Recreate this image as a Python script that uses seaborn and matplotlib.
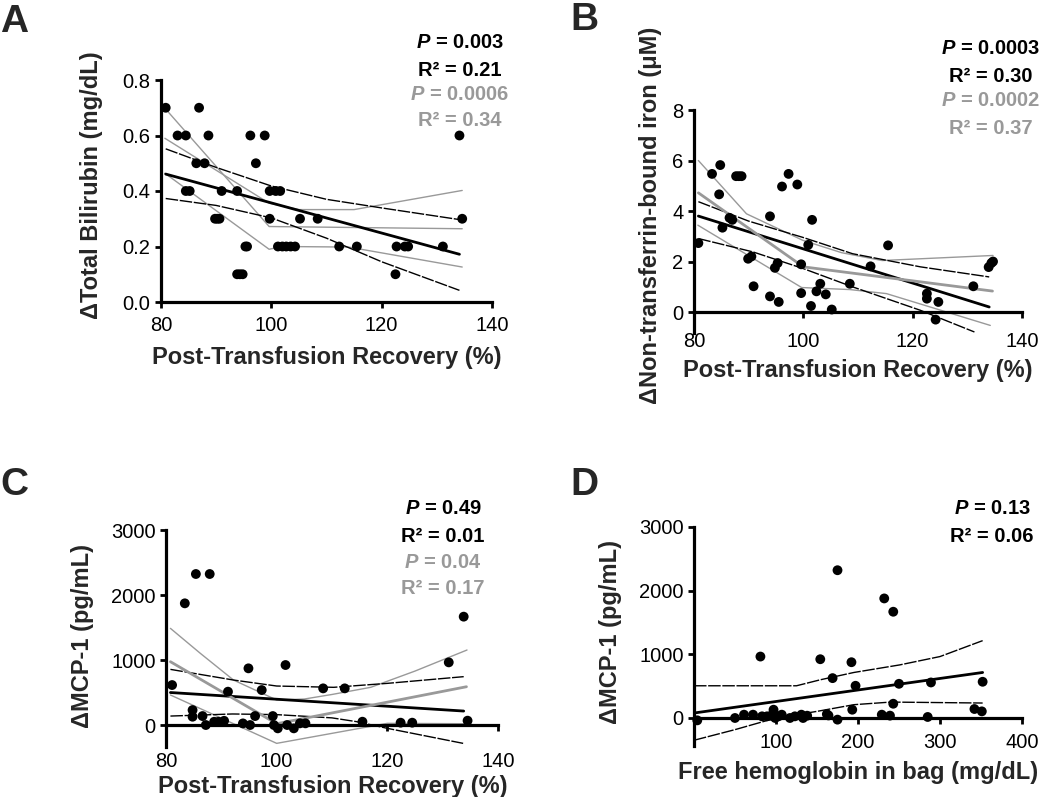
import matplotlib
matplotlib.use("Agg")
import matplotlib.pyplot as plt
import seaborn as sns
import numpy as np

# ---------------- data ----------------
# Panel A
a_x = [80.85, 83.0, 84.5, 84.5, 85.2, 86.9, 86.4, 87.9, 88.6, 89.8, 90.2, 90.6, 91.0,
       93.8, 93.8, 94.3, 94.8, 95.3, 95.6, 96.2, 97.2, 98.8, 99.7, 99.7, 100.8, 101.6,
       101.2, 102.0, 102.7, 103.5, 104.3, 105.2, 108.4, 112.3, 115.5, 122.5, 122.7,
       124.2, 124.8, 131.1, 134.1, 134.6]
a_y = [0.7, 0.6, 0.6, 0.4, 0.4, 0.7, 0.5, 0.5, 0.6, 0.3, 0.3, 0.3, 0.4,
       0.4, 0.1, 0.1, 0.1, 0.2, 0.2, 0.6, 0.5, 0.6, 0.3, 0.4, 0.4, 0.4,
       0.2, 0.2, 0.2, 0.2, 0.2, 0.3, 0.3, 0.2, 0.2, 0.1, 0.2,
       0.2, 0.2, 0.2, 0.6, 0.3]
a_fit_x = [80.85, 134.1]
a_fit_y = [0.461, 0.172]
a_hi_x = [80.85, 90, 100, 110, 120, 134.1]
a_hi_y = [0.552, 0.485, 0.418, 0.37, 0.339, 0.297]
a_lo_x = [80.85, 90, 100, 110, 120, 134.1]
a_lo_y = [0.373, 0.348, 0.303, 0.23, 0.145, 0.042]
a_seg_x = [80.5, 99.6, 134.6]
a_seg_y = [0.703, 0.272, 0.264]
a_seghi_x = [80.7, 99.6, 105, 115, 134.6]
a_seghi_y = [0.59, 0.356, 0.333, 0.333, 0.402]
a_seglo_x = [80.7, 99.6, 102, 114, 134.6]
a_seglo_y = [0.464, 0.19, 0.2, 0.198, 0.126]

# Panel B
b_x = [80.8, 83.3, 84.8, 84.6, 85.2, 86.5, 87.0, 87.7, 88.2, 88.7, 89.9, 90.5, 90.9,
       93.9, 93.9, 94.8, 95.3, 95.5, 96.1, 97.3, 98.9, 99.6, 99.6, 100.9, 101.4, 101.6,
       102.4, 103.1, 104.1, 105.2, 108.5, 112.3, 115.5, 122.6, 122.6, 124.7, 124.2,
       131.1, 133.9, 134.4, 134.7]
b_y = [2.73, 5.47, 5.82, 4.66, 3.34, 3.73, 3.65, 5.38, 5.38, 5.38, 2.11, 2.2, 1.02,
       3.79, 0.62, 1.75, 1.94, 0.40, 4.97, 5.47, 5.05, 0.75, 1.89, 2.66, 0.24, 3.65,
       0.82, 1.12, 0.70, 0.10, 1.12, 1.81, 2.64, 0.73, 0.53, 0.40, -0.30,
       1.02, 1.78, 1.94, 2.0]
b_fit_x = [80.8, 134.0]
b_fit_y = [3.8, 0.2]
b_hi_x = [80.8, 90, 100, 109, 121.4, 134.0]
b_hi_y = [4.37, 3.6, 2.95, 2.31, 1.79, 1.39]
b_lo_x = [80.8, 90.8, 100, 109.1, 121.4, 131.3]
b_lo_y = [2.91, 2.38, 1.72, 0.99, 0.07, -0.79]
b_seg_x = [80.8, 100, 134.6]
b_seg_y = [4.72, 1.79, 0.83]
b_seghi_x = [80.8, 89.6, 99.9, 107, 114.4, 134.7]
b_seghi_y = [6.0, 3.89, 2.84, 2.35, 2.04, 2.24]
b_seglo_x = [80.7, 99.7, 108.5, 115.2, 134.2]
b_seglo_y = [3.44, 0.97, 0.89, 0.73, -0.53]

# Panel C
c_x = [81.1, 83.4, 85.4, 87.9, 84.8, 84.8, 86.6, 87.2, 88.7, 89.5, 90.5, 91.2, 93.9,
       94.9, 95.2, 96.1, 97.3, 99.3, 99.5, 100.2, 101.6, 101.9, 103.1, 104.2, 105.2,
       108.4, 112.3, 115.5, 122.4, 124.5, 131.1, 133.8, 134.5]
c_y = [615, 1872, 2323, 2323, 230, 128, 138, 0, 50, 50, 65, 513, 25,
       872, 0, 138, 538, 138, 0, -51, 923, 0, -51, 26, 26,
       564, 564, 51, 36, 36, 964, 1667, 67]
c_fit_x = [80.8, 133.8]
c_fit_y = [500, 215]
c_hi_x = [80.8, 92.2, 100, 110.3, 120, 133.8]
c_hi_y = [856, 692, 600, 580, 641, 744]
c_lo_x = [80.8, 92, 100, 110, 114.5, 120, 133.7]
c_lo_y = [138, 170, 160, 110, 51, -51, -282]
c_seg_x = [80.8, 100, 134.3]
c_seg_y = [974, 20, 589]
c_seghi_x = [80.8, 86.2, 92.2, 100, 105, 110, 117, 125, 134.4]
c_seghi_y = [1487, 1103, 692, 385, 400, 470, 580, 830, 1154]
c_seglo_x = [80.8, 100, 120, 134.4]
c_seglo_y = [462, -282, 26, 20]

# Panel D
d_x = [4, 50, 61, 72, 81, 83, 89, 94, 97, 99, 103, 107, 117, 123, 131, 133, 138, 154,
       162, 164, 169, 175, 175, 192, 193, 197, 229, 232, 239, 243, 243, 250, 285, 289,
       342, 351, 352]
d_y = [-37, 0, 52, 52, 965, 26, 26, 36, 130, 0, 26, 52, 0, 26, 52, 0, 36, 923,
       60, 40, 626, 2321, -26, 876, 130, 506, 52, 1878, 37, 224, 1669, 537, 16, 558,
       141, 104, 569]
d_fit_x = [0, 352]
d_fit_y = [78, 715]
d_hi_x = [0, 125, 154, 195, 251, 300, 352]
d_hi_y = [506, 506, 600, 715, 834, 965, 1215]
d_lo_x = [0, 50, 100, 150, 195, 240, 352]
d_lo_y = [-350, -183, 0, 104, 209, 250, 235]

xlabel_ptr = "Post-Transfusion Recovery (%)"
xlabel_hb = "Free hemoglobin in bag (mg/dL)"
ylabels = ["\u0394Total Bilirubin (mg/dL)", "\u0394Non-transferrin-bound iron (\u03bcM)",
           "\u0394MCP-1 (pg/mL)", "\u0394MCP-1 (pg/mL)"]
stats = {
    "A": [("$P$ = 0.003", "k"), ("R\u00b2 = 0.21", "k"), ("$P$ = 0.0006", "g"), ("R\u00b2 = 0.34", "g")],
    "B": [("$P$ = 0.0003", "k"), ("R\u00b2 = 0.30", "k"), ("$P$ = 0.0002", "g"), ("R\u00b2 = 0.37", "g")],
    "C": [("$P$ = 0.49", "k"), ("R\u00b2 = 0.01", "k"), ("$P$ = 0.04", "g"), ("R\u00b2 = 0.17", "g")],
    "D": [("$P$ = 0.13", "k"), ("R\u00b2 = 0.06", "k")],
}

# ---------------- style ----------------
sns.set_style("ticks")
plt.rcParams["font.family"] = ["Liberation Sans", "DejaVu Sans"]
plt.rcParams["mathtext.fontset"] = "custom"
plt.rcParams["mathtext.it"] = "Liberation Sans:italic:bold"
plt.rcParams["mathtext.rm"] = "Liberation Sans:bold"
plt.rcParams["mathtext.bf"] = "Liberation Sans:bold"

W, H = 1050, 797
fig = plt.figure(figsize=(W / 100, H / 100), dpi=100)
GRAY = "#999999"
TICK_FS = 14.5
LABEL_FS = 17
STAT_FS = 14.5


def rect(l, t, r, b):
    return [l / W, 1 - b / H, (r - l) / W, (b - t) / H]


def ftext(x, y, s, **kw):
    fig.text(x / W, 1 - y / H, s, **kw)


def style_ax(ax, xlim, ylim, xticks, yticks, xpad, zero_axis=False):
    ax.set_xlim(*xlim)
    ax.set_ylim(*ylim)
    ax.set_xticks(xticks)
    ax.set_yticks(yticks)
    for s in ["top", "right"]:
        ax.spines[s].set_visible(False)
    for s in ["left", "bottom"]:
        ax.spines[s].set_linewidth(2.3)
        ax.spines[s].set_color("black")
    if zero_axis:
        ax.spines["bottom"].set_position(("data", 0))
    ax.tick_params(direction="out", length=4.5, width=2.0, labelsize=TICK_FS,
                   colors="black")
    ax.tick_params(axis="y", pad=3.0)
    ax.tick_params(axis="x", pad=xpad)
    ax.set_xlabel("")
    ax.set_ylabel("")
    ax.patch.set_alpha(0)


def line(ax, x, y, color="black", lw=1.0, dashed=False):
    kw = dict(x=x, y=y, ax=ax, color=color, lw=lw, estimator=None, sort=False,
              legend=False)
    if dashed:
        kw["linestyle"] = (0, (9, 1.2))
    sns.lineplot(**kw)


def points(ax, x, y):
    sns.scatterplot(x=x, y=y, ax=ax, color="black", s=50, edgecolor="none",
                    zorder=4, clip_on=False, legend=False)


# ---- Panel A ----
axA = fig.add_axes(rect(161, 80, 492, 302))
line(axA, a_seg_x, a_seg_y, GRAY, 1.0)
line(axA, a_seghi_x, a_seghi_y, GRAY, 1.0)
line(axA, a_seglo_x, a_seglo_y, GRAY, 1.0)
line(axA, a_hi_x, a_hi_y, "black", 1.0, dashed=True)
line(axA, a_lo_x, a_lo_y, "black", 1.0, dashed=True)
line(axA, a_fit_x, a_fit_y, "black", 2.0)
points(axA, a_x, a_y)
style_ax(axA, (80, 140), (0, 0.8), [80, 100, 120, 140], [0.0, 0.2, 0.4, 0.6, 0.8], xpad=5.5)
axA.set_yticklabels(["0.0", "0.2", "0.4", "0.6", "0.8"])

# ---- Panel B ----
axB = fig.add_axes(rect(694, 110, 1022, 333))
line(axB, b_seghi_x, b_seghi_y, GRAY, 1.0)
line(axB, b_seglo_x, b_seglo_y, GRAY, 1.0)
line(axB, b_hi_x, b_hi_y, "black", 1.0, dashed=True)
line(axB, b_lo_x, b_lo_y, "black", 1.0, dashed=True)
line(axB, b_fit_x, b_fit_y, "black", 2.0)
line(axB, b_seg_x, b_seg_y, GRAY, 2.0)
points(axB, b_x, b_y)
style_ax(axB, (80, 140), (-0.83, 8), [80, 100, 120, 140], [0, 2, 4, 6, 8], xpad=10.0,
         zero_axis=True)

# ---- Panel C ----
axC = fig.add_axes(rect(166, 530, 498, 747))
line(axC, c_seghi_x, c_seghi_y, GRAY, 1.0)
line(axC, c_seglo_x, c_seglo_y, GRAY, 1.0)
line(axC, c_hi_x, c_hi_y, "black", 1.0, dashed=True)
line(axC, c_lo_x, c_lo_y, "black", 1.0, dashed=True)
line(axC, c_fit_x, c_fit_y, "black", 2.0)
line(axC, c_seg_x, c_seg_y, GRAY, 2.0)
points(axC, c_x, c_y)
style_ax(axC, (80, 140), (-338, 3000), [80, 100, 120, 140], [0, 1000, 2000, 3000],
         xpad=15.0, zero_axis=True)

# ---- Panel D ----
axD = fig.add_axes(rect(694, 527, 1022, 746))
line(axD, d_hi_x, d_hi_y, "black", 1.0, dashed=True)
line(axD, d_lo_x, d_lo_y, "black", 1.0, dashed=True)
line(axD, d_fit_x, d_fit_y, "black", 2.0)
points(axD, d_x, d_y)
style_ax(axD, (0, 400), (-440, 3000), [100, 200, 300, 400], [0, 1000, 2000, 3000],
         xpad=6.0, zero_axis=True)

# ---- texts ----
for lab, (x, y) in zip("ABCD", [(0, 32), (570, 30), (0, 495), (570, 495)]):
    ftext(x, y, lab, fontsize=28, fontweight="bold", ha="left", va="baseline")

for lab, (x, y) in zip(ylabels, [(92, 185), (650, 215), (82, 636), (610, 632)]):
    ftext(x, y, lab, fontsize=LABEL_FS, fontweight="bold", rotation=90, ha="center",
          va="center")

ftext(327, 358, xlabel_ptr, fontsize=LABEL_FS, fontweight="bold", ha="center", va="center")
ftext(858, 370, xlabel_ptr, fontsize=LABEL_FS, fontweight="bold", ha="center", va="center")
ftext(333, 786, xlabel_ptr, fontsize=LABEL_FS, fontweight="bold", ha="center", va="center")
ftext(858, 773, xlabel_hb, fontsize=LABEL_FS, fontweight="bold", ha="center", va="center")

stat_pos = {"A": (460, [42, 70, 94, 120]), "B": (991, [48, 76, 101, 128]),
            "C": (443, [508, 537, 562, 588]), "D": (992, [508, 537])}
for key, items in stats.items():
    cx, ys = stat_pos[key]
    for (s, c), y in zip(items, ys):
        ftext(cx, y, s, fontsize=STAT_FS, fontweight="bold", ha="center", va="center",
              color="black" if c == "k" else GRAY)

fig.savefig("out.png", dpi=100)
